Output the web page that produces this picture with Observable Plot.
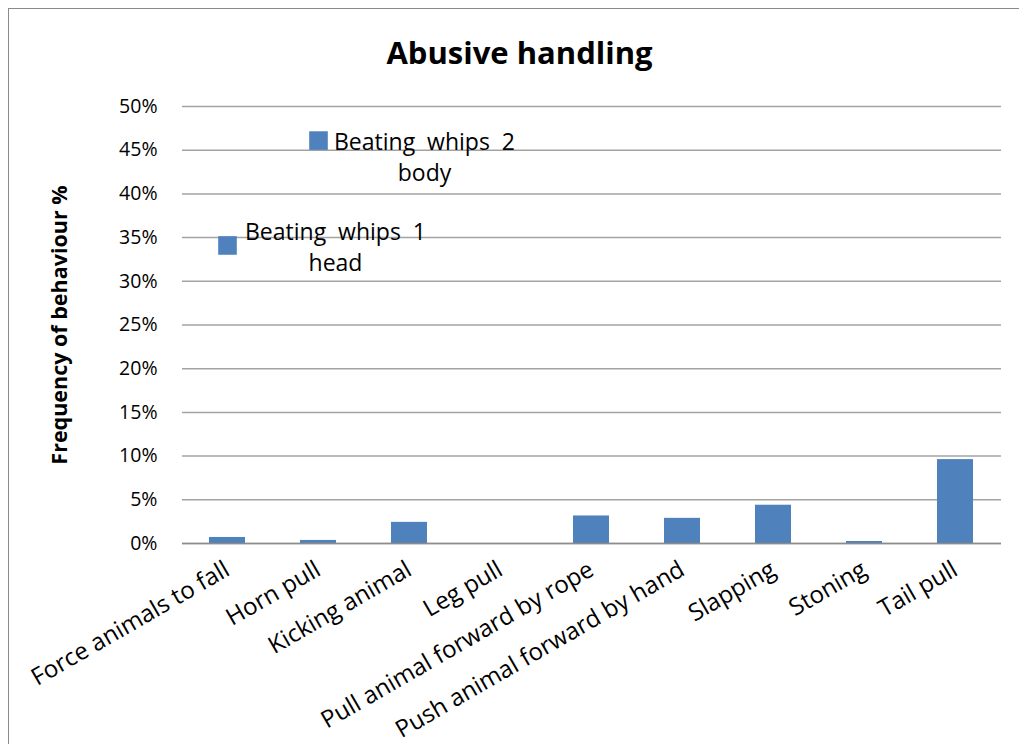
<!DOCTYPE html>
<html>
<head>
<meta charset="utf-8">
<script src="https://cdn.jsdelivr.net/npm/d3@7"></script>
<script src="https://cdn.jsdelivr.net/npm/@observablehq/plot@0.6"></script>
<style>
  html, body { margin: 0; padding: 0; background: #fff; }
  #wrap { position: relative; width: 1019px; height: 744px; overflow: hidden; font-family: "Open Sans", sans-serif; }
  #frame { position: absolute; left: 8px; top: 8px; width: 1020px; height: 745px; border-left: 1.5px solid #8a8a8a; border-top: 1.5px solid #8a8a8a; box-sizing: border-box; pointer-events: none; }
  #title { height: 80px; line-height: 104px; text-align: center; padding-left: 20px; box-sizing: border-box; font-weight: bold; font-size: 31px; color: #000; }
  #chart svg { display: block; }
</style>
</head>
<body>
<div id="wrap">
  <div id="frame"></div>
  <div id="title">Abusive handling</div>
  <div id="chart"></div>
</div>
<script>
const categories = ["Force animals to fall", "Horn pull", "Kicking animal", "Leg pull",
  "Pull animal forward by rope", "Push animal forward by hand", "Slapping", "Stoning", "Tail pull"];
const frequencies = [0.0069, 0.0035, 0.0242, 0, 0.0315, 0.0288, 0.0438, 0.0023, 0.096];

const whipCategories = ["Force animals to fall", "Horn pull"];
const whipValues = [0.341, 0.461];
const whipLabels = ["Beating  whips  1\nhead", "Beating  whips  2\nbody"];

const yTicks = [0, 0.05, 0.10, 0.15, 0.20, 0.25, 0.30, 0.35, 0.40, 0.45, 0.50];
const yLabel = "Frequency of behaviour %";

const bars = categories.map((c, i) => ({category: c, value: frequencies[i]}));
const whips = whipCategories.map((c, i) => ({category: c, value: whipValues[i], label: whipLabels[i]}));

const barColor = "#4f81bd";
const gridColor = "#a3a3a3";

const chart = Plot.plot({
  width: 1019,
  height: 664,
  marginTop: 26,
  marginBottom: 201,
  marginLeft: 182,
  marginRight: 18,
  style: {fontFamily: "Open Sans, sans-serif", fontSize: "19px", color: "#000", background: "#fff"},
  x: {domain: categories, paddingInner: 0.6, paddingOuter: 0.3, label: null},
  y: {domain: [0, 0.5], label: null},
  marks: [
    Plot.gridY(yTicks, {stroke: gridColor, strokeOpacity: 1, strokeWidth: 1.5}),
    Plot.axisY(yTicks, {tickFormat: d3.format(".0%"), tickSize: 0, tickPadding: 25, fontSize: 19.5, label: null}),
    Plot.barY(bars, {x: "category", y: "value", fill: barColor}),
    Plot.ruleY([0], {stroke: "#8c8c8c", strokeWidth: 1.5}),
    Plot.axisX({tickRotate: -30, tickSize: 0, tickPadding: 24, fontSize: 24, label: null}),
    Plot.dot(whips, {x: "category", y: "value", symbol: "square", r: 10.5, fill: barColor, stroke: null}),
    Plot.text(whips.slice(0, 1), {x: "category", y: "value", text: "label", dx: 108, dy: 0, lineAnchor: "middle", lineHeight: 1.35, fontSize: 23, fill: "#000", textAnchor: "middle"}),
    Plot.text(whips.slice(1, 2), {x: "category", y: "value", text: "label", dx: 106, dy: 15, lineAnchor: "middle", lineHeight: 1.35, fontSize: 23, fill: "#000", textAnchor: "middle"}),
    Plot.text([yLabel], {frameAnchor: "left", dx: -122, rotate: -90, fontWeight: "bold", fontSize: 21.5, fill: "#000", textAnchor: "middle"})
  ]
});
chart.querySelectorAll("text").forEach(t => t.style.whiteSpace = "pre");
document.getElementById("chart").appendChild(chart);
</script>
</body>
</html>
